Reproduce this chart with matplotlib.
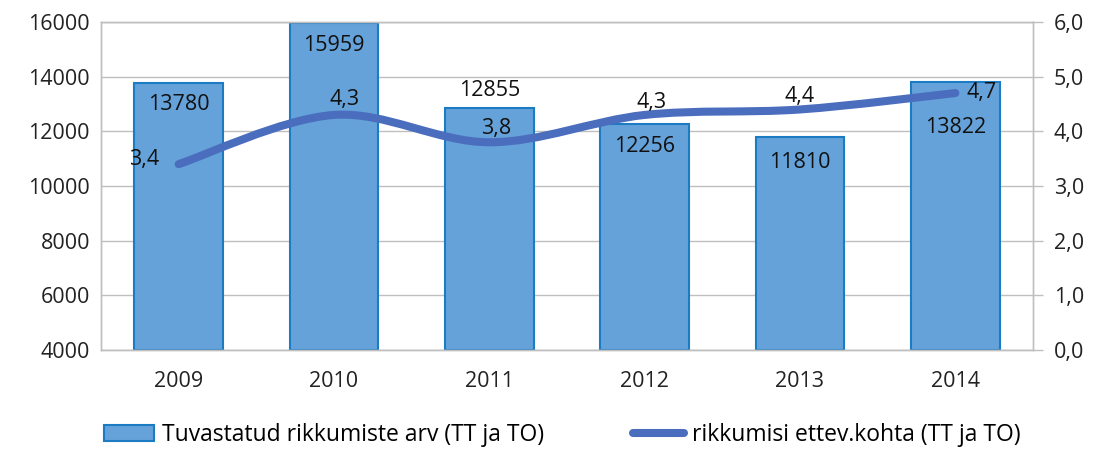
import matplotlib
matplotlib.use("Agg")
import matplotlib.pyplot as plt
from matplotlib.path import Path
from matplotlib.patches import PathPatch, Patch
from matplotlib.lines import Line2D
import numpy as np

years = ["2009", "2010", "2011", "2012", "2013", "2014"]
violations = [13780, 15959, 12855, 12256, 11810, 13822]
per_company = [3.4, 4.3, 3.8, 4.3, 4.4, 4.7]
left_ticks = [4000, 6000, 8000, 10000, 12000, 14000, 16000]
right_ticks = [0, 1, 2, 3, 4, 5, 6]
bar_label = "Tuvastatud rikkumiste arv (TT ja TO)"
line_label = "rikkumisi ettev.kohta (TT ja TO)"

plt.rcParams['font.family'] = ['Open Sans', 'DejaVu Sans']

bar_color = "#65A2D9"
bar_edge = "#1B7CC3"
line_color = "#4A6DBE"
grid_color = "#BFBFBF"
FS = 15.5
LFS = 16.5

fig = plt.figure(figsize=(10.97, 4.5), dpi=100)
ax = fig.add_axes([101/1097, 100/450, (1033-101)/1097, (350-22)/450])
ax2 = ax.twinx()

x = np.arange(len(years))
base = left_ticks[0]
ax.bar(x, np.array(violations) - base, bottom=base, width=0.57,
       color=bar_color, edgecolor=bar_edge, linewidth=1.5, zorder=2)
ax.set_xlim(-0.5, len(years) - 0.5)
ax.set_ylim(left_ticks[0], left_ticks[-1])
ax.set_yticks(left_ticks)
ax.set_yticklabels([str(v) for v in left_ticks], fontsize=FS, color="#222222")
ax.set_xticks(x)
ax.set_xticklabels(years, fontsize=FS, color="#222222")
ax.tick_params(axis='x', length=0, pad=15)
ax.tick_params(axis='y', length=0, pad=8)
ax.grid(axis='y', color=grid_color, linewidth=1, zorder=0)
ax.set_axisbelow(True)
for s in ax.spines.values():
    s.set_color(grid_color)
    s.set_linewidth(1)

# smooth line through data points (Bezier)
pts = np.column_stack([x, per_company]).astype(float)
n = len(pts)
verts = [tuple(pts[0])]
codes = [Path.MOVETO]
for i in range(n - 1):
    p0 = pts[i - 1] if i > 0 else pts[i]
    p1 = pts[i]
    p2 = pts[i + 1]
    p3 = pts[i + 2] if i + 2 < n else pts[i + 1]
    c1 = p1 + (p2 - p0) / 6.0
    c2 = p2 - (p3 - p1) / 6.0
    verts += [tuple(c1), tuple(c2), tuple(p2)]
    codes += [Path.CURVE4] * 3
ax2.add_patch(PathPatch(Path(verts, codes), facecolor='none', edgecolor=line_color,
                        linewidth=5.8, capstyle='round', joinstyle='round', zorder=3))
ax2.set_ylim(right_ticks[0], right_ticks[-1])
ax2.set_yticks(right_ticks)
ax2.set_yticklabels([f"{v:.1f}".replace(".", ",") for v in right_ticks], fontsize=FS, color="#222222")
ax2.tick_params(axis='y', length=7, width=1, color=grid_color, pad=8)
for s in ax2.spines.values():
    s.set_color(grid_color)
    s.set_linewidth(1)

# bar labels (offsets in pixels relative to bar top)
bar_offsets = [(0, -22), (0, -22), (0, 17), (0, -22), (0, -26), (0, -46)]
for xi, v, (dx, dy) in zip(x, violations, bar_offsets):
    ax.annotate(str(v), (xi, v), xytext=(dx, dy), textcoords='offset pixels',
                ha='center', va='center', fontsize=FS, color='#111111', zorder=5)

# line labels
line_offsets = [(-35, 5), (11, 15), (7, 14), (7, 12), (0, 12.5), (26, 1)]
for xi, v, (dx, dy) in zip(x, per_company, line_offsets):
    ax2.annotate(f"{v:.1f}".replace(".", ","), (xi, v), xytext=(dx, dy),
                 textcoords='offset pixels', ha='center', va='center',
                 fontsize=FS, color='#111111', zorder=5)

handles = [Patch(facecolor=bar_color, edgecolor=bar_edge, linewidth=1.5),
           Line2D([0], [0], color=line_color, linewidth=5.8, solid_capstyle='round')]
fig.legend(handles, [bar_label, line_label], loc='center', bbox_to_anchor=(562/1097, 15/450),
           ncol=2, frameon=False, fontsize=LFS, handlelength=2.2, handletextpad=0.35,
           columnspacing=3.9, borderpad=0, borderaxespad=0)

fig.savefig("out.png", dpi=100)
